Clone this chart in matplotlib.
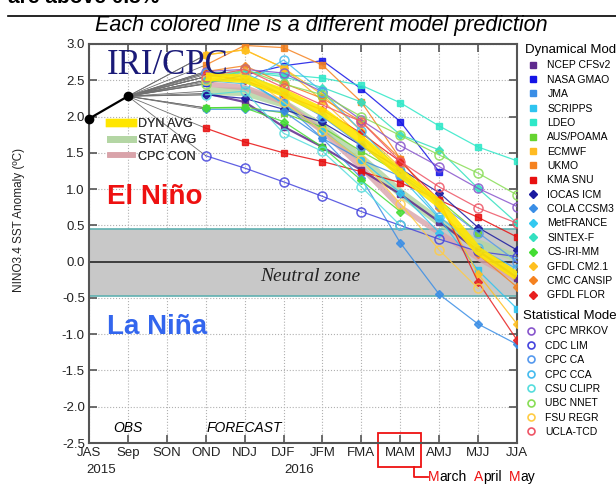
import numpy as np
import matplotlib
matplotlib.use('Agg')
import matplotlib.pyplot as plt
from matplotlib.lines import Line2D
from matplotlib.patches import Rectangle

plt.rcParams['font.family'] = ['Liberation Sans', 'DejaVu Sans']

nan = np.nan

# seasons on the x axis
seasons = ['JAS', 'Sep', 'SON', 'OND', 'NDJ', 'DJF', 'JFM', 'FMA', 'MAM', 'AMJ', 'MJJ', 'JJA']
obs_seasons = ['JAS', 'Sep']
obs_values = [1.97, 2.28]
forecast_seasons = ['OND', 'NDJ', 'DJF', 'JFM', 'FMA', 'MAM', 'AMJ', 'MJJ', 'JJA']
year_labels = ['2015', '2016']

# dynamical models (OND ... JJA)
ncep_cfsv2 = [2.32, 2.20, 1.86, 1.58, 1.26, 0.93, 0.55, 0.15, -0.22]
nasa_gmao = [2.46, 2.57, 2.70, 2.77, 2.38, 1.93, 1.24, nan, nan]
jma = [2.48, 2.52, 2.18, 1.70, 1.40, 1.18, 0.82, nan, nan]
scripps = [2.55, 2.60, 2.35, 2.00, 1.62, 1.17, 0.60, -0.12, -0.65]
ldeo = [2.60, 2.62, 2.58, 2.53, 2.43, 2.19, 1.87, 1.58, 1.39]
aus_poama = [2.12, 2.13, 2.05, 1.85, 1.52, 1.22, 0.85, 0.40, nan]
ecmwf = [2.85, 2.92, 2.67, 2.22, 1.72, 1.22, nan, nan, nan]
ukmo = [2.71, 2.98, 2.95, 2.71, 2.20, 1.42, nan, nan, nan]
kma_snu = [1.84, 1.65, 1.50, 1.38, 1.24, 1.09, 0.85, 0.61, 0.34]
iocas_icm = [2.30, 2.25, 2.10, 1.92, 1.60, 1.28, 0.95, 0.47, 0.16]
cola_ccsm3 = [2.10, 2.10, 2.07, 1.70, 1.15, 0.26, -0.45, -0.86, -1.14]
metfrance = [2.50, 2.50, 2.18, 1.81, 1.40, 0.95, 0.40, nan, nan]
sintex_f = [2.55, 2.62, 2.55, 2.40, 2.20, 1.75, 1.54, 1.01, 0.53]
cs_iri_mm = [2.12, 2.12, 1.93, 1.58, 1.12, 0.69, nan, nan, nan]
gfdl_cm21 = [2.85, 2.92, 2.67, 2.30, 1.80, 1.30, 0.80, -0.17, -0.86]
cmc_cansip = [2.62, 2.70, 2.46, 2.25, 1.93, 1.42, 0.74, 0.10, -0.35]
gfdl_flor = [2.58, 2.50, 2.30, 2.09, 1.77, 1.38, 0.85, -0.28, -1.08]

# statistical models
cpc_mrkov = [2.62, 2.65, 2.60, 2.34, 1.95, 1.60, 1.31, 1.01, 0.76]
cdc_lim = [1.46, 1.29, 1.10, 0.90, 0.69, 0.50, 0.31, 0.14, 0.07]
cpc_ca = [2.60, 2.55, 2.30, 2.00, 1.60, 1.20, 0.80, 0.40, 0.00]
cpc_cca = [2.50, 2.45, 2.78, 2.34, 1.80, 1.25, 0.62, 0.19, -0.10]
csu_clipr = [2.30, 2.35, 1.77, 1.52, 1.03, 0.50, nan, nan, nan]
ubc_nnet = [2.45, 2.65, 2.45, 2.30, 2.00, 1.74, 1.47, 1.22, 0.92]
fsu_regr = [2.50, 2.60, 2.20, 1.80, 1.40, 0.80, 0.16, -0.37, nan]
ucla_tcd = [2.55, 2.65, 2.40, 2.16, 1.93, 1.38, 1.03, 0.74, 0.53]

# averages
dyn_avg = [2.55, 2.52, 2.33, 2.07, 1.68, 1.22, 0.80, 0.15, -0.20]
stat_avg = [2.35, 2.34, 2.18, 1.85, 1.42, 0.95, 0.55, 0.25, 0.05]
cpc_con = [2.45, 2.40, 2.20, 1.80, 1.30, 0.75, 0.40, 0.05, -0.25]

dyn_models = [
    ('NCEP CFSv2', ncep_cfsv2, '#5e2a8e', 's'),
    ('NASA GMAO', nasa_gmao, '#1414e6', 's'),
    ('JMA', jma, '#3a8ee6', 's'),
    ('SCRIPPS', scripps, '#2ec4f0', 's'),
    ('LDEO', ldeo, '#2ee8c8', 's'),
    ('AUS/POAMA', aus_poama, '#66d430', 's'),
    ('ECMWF', ecmwf, '#ffbb22', 's'),
    ('UKMO', ukmo, '#f58220', 's'),
    ('KMA SNU', kma_snu, '#e81010', 's'),
    ('IOCAS ICM', iocas_icm, '#1a1aa0', 'D'),
    ('COLA CCSM3', cola_ccsm3, '#3a8ee6', 'D'),
    ('MetFRANCE', metfrance, '#33c8f0', 'D'),
    ('SINTEX-F', sintex_f, '#33e0c0', 'D'),
    ('CS-IRI-MM', cs_iri_mm, '#44dd33', 'D'),
    ('GFDL CM2.1', gfdl_cm21, '#ffc020', 'D'),
    ('CMC CANSIP', cmc_cansip, '#f58220', 'D'),
    ('GFDL FLOR', gfdl_flor, '#e82020', 'D'),
]
stat_models = [
    ('CPC MRKOV', cpc_mrkov, '#8855cc'),
    ('CDC LIM', cdc_lim, '#4444dd'),
    ('CPC CA', cpc_ca, '#5599ee'),
    ('CPC CCA', cpc_cca, '#44bbee'),
    ('CSU CLIPR', csu_clipr, '#55dddd'),
    ('UBC NNET', ubc_nnet, '#88dd55'),
    ('FSU REGR', fsu_regr, '#ffcc44'),
    ('UCLA-TCD', ucla_tcd, '#ee5566'),
]

fig = plt.figure(figsize=(6.16, 4.84), dpi=100)
ax = fig.add_axes([89 / 616, 1 - 443 / 484, 428 / 616, 399 / 484])

x_all = np.arange(len(seasons))
x_obs = [seasons.index(s) for s in obs_seasons]
x_fc = [seasons.index(s) for s in forecast_seasons]

# neutral zone
ax.axhspan(-0.47, 0.45, facecolor='#c8c8c8', edgecolor='#5fb0b0', lw=1.2, zorder=1)
ax.axhline(0, color='#333333', lw=1.3, zorder=1.5)

# gray connectors from last obs to first forecast
all_series = [m[1] for m in dyn_models] + [m[1] for m in stat_models] + [dyn_avg, stat_avg, cpc_con]
for vals in all_series:
    ax.plot([x_obs[-1], x_fc[0]], [obs_values[-1], vals[0]], color='#707070', lw=0.6, zorder=2)

# averages
ax.plot(x_fc, stat_avg, color='#b4d6a4', lw=6, alpha=0.85, solid_capstyle='butt', zorder=2.5)
ax.plot(x_fc, cpc_con, color='#d9a3aa', lw=4, alpha=0.8, solid_capstyle='butt', zorder=2.5)

dyn_handles = []
for name, vals, c, m in dyn_models:
    lw = 1.6 if name == 'NCEP CFSv2' else 0.9
    ax.plot(x_fc, vals, color=c, lw=lw, marker=m, ms=5 if m == 's' else 4.5,
            mfc=c, mec=c, alpha=0.85, zorder=3)
    dyn_handles.append(Line2D([], [], ls='none', marker=m, ms=4.5, color=c, label=name))

stat_handles = []
for name, vals, c in stat_models:
    ax.plot(x_fc, vals, color=c, lw=0.9, marker='o', ms=6.5, mfc='none', mec=c, mew=1.1,
            alpha=0.85, zorder=3)
    stat_handles.append(Line2D([], [], ls='none', marker='o', ms=5, mfc='none', mec=c,
                               mew=1.2, label=name))

ax.plot(x_fc, dyn_avg, color='#ffe600', lw=6, alpha=0.9, solid_capstyle='butt', zorder=3.5)

# observations
ax.plot(x_obs, obs_values, color='black', lw=1.6, marker='o', ms=6, zorder=4, clip_on=False)

ax.set_xlim(0, 11)
ax.set_ylim(-2.5, 3.0)
ax.set_xticks(x_all)
ax.set_xticklabels(seasons, fontsize=9.5)
ax.set_yticks(np.arange(-2.5, 3.01, 0.5))
ax.set_yticklabels(['%.1f' % v for v in np.arange(-2.5, 3.01, 0.5)], fontsize=9.5)
ax.tick_params(direction='in', length=6, width=1.2, color='#555555', top=True, right=True,
               pad=3, labelcolor='#222222')
ax.grid(True, ls=':', color='#b0b0b0', lw=0.8)
ax.set_axisbelow(True)
for sp in ax.spines.values():
    sp.set_color('#555555')
    sp.set_linewidth(1.5)

ax.set_ylabel('NINO3.4 SST Anomaly (ºC)', fontsize=8.5, color='#222222')
ax.yaxis.set_label_coords(-0.15, 0.56)

# in-axes text
ax.text(2.03, 2.71, 'IRI/CPC', family='Liberation Serif', fontsize=25, color='#1a1a78',
        ha='center', va='center', zorder=5)
ax.text(0.46, 0.89, 'El Niño', fontsize=20, fontweight='bold', color='#ee1111', va='center')
ax.text(0.46, -0.90, 'La Niña', fontsize=20, fontweight='bold', color='#3366ee', va='center')
ax.text(5.68, -0.20, 'Neutral zone', family='Liberation Serif', style='italic', fontsize=14,
        color='#222222', ha='center', va='center', zorder=5)
ax.text(1, -2.3, 'OBS', style='italic', fontsize=10, ha='center', va='center')
ax.text(4, -2.3, 'FORECAST', style='italic', fontsize=10, ha='center', va='center')

avg_handles = [
    Line2D([], [], color='#ffe600', lw=6, label='DYN AVG'),
    Line2D([], [], color='#b4d6a4', lw=5, label='STAT AVG'),
    Line2D([], [], color='#d9a3aa', lw=4, label='CPC CON'),
]
leg_in = ax.legend(handles=avg_handles, loc='upper left', bbox_to_anchor=(0.035, 0.83),
                   frameon=False, fontsize=9, handlelength=1.8, handletextpad=0.4,
                   labelspacing=0.35, borderpad=0)
for t in leg_in.get_texts():
    t.set_color('#333333')
ax.add_artist(leg_in)

# year labels
trans = ax.get_xaxis_transform()
ax.text(0.3, -0.068, year_labels[0], transform=trans, fontsize=9.5, ha='center', va='center',
        color='#222222')
ax.text(5.4, -0.068, year_labels[1], transform=trans, fontsize=9.5, ha='center', va='center',
        color='#222222')

# MAM highlight
i_mam = seasons.index('MAM')
ax.add_patch(Rectangle((i_mam - 0.57, -0.06), 1.1, 0.085, transform=trans, fill=False,
                       ec='#ee1111', lw=1.3, clip_on=False))
ax.plot([i_mam + 0.35, i_mam + 0.35, i_mam + 0.7], [-0.06, -0.084, -0.084], transform=trans,
        color='#ee1111', lw=1.3, clip_on=False)
prev = ax.text(i_mam + 0.72, -0.084, 'M', transform=trans, color='#ee1111', fontsize=10,
               ha='left', va='center')
pieces = [('arch', 'black', 0), ('A', '#ee1111', 5), ('pril', 'black', 0),
          ('M', '#ee1111', 5), ('ay', 'black', 0)]
for s, c, gap in pieces:
    prev = ax.annotate(s, xy=(1, 0), xycoords=prev, xytext=(gap, 0), textcoords='offset points',
                       color=c, fontsize=10, ha='left', va='bottom')

# right-side model legends
leg_kw = dict(loc='upper left', frameon=False, fontsize=7.5, title_fontsize=9.5,
              alignment='left', borderpad=0, handlelength=1.6, handletextpad=0.55,
              labelspacing=0.42, borderaxespad=0)
fig.legend(handles=dyn_handles, title='Dynamical Models',
           bbox_to_anchor=(525 / 616, 1 - 44 / 484), **leg_kw)
fig.legend(handles=stat_handles, title='Statistical Models',
           bbox_to_anchor=(523 / 616, 1 - 310 / 484), **leg_kw)

# header text cut off at top
fig.text(8 / 616, 1 + 2 / 484, 'are above 0.5%', fontsize=15, fontweight='bold', ha='left', va='center')
fig.add_artist(Line2D([8 / 616, 1], [1 - 16 / 484, 1 - 16 / 484], color='black', lw=1.2))
fig.text(321 / 616, 1 - 26 / 484, 'Each colored line is a different model prediction',
         style='italic', fontsize=15.5, ha='center', va='center')

fig.savefig('out.png', dpi=100)
